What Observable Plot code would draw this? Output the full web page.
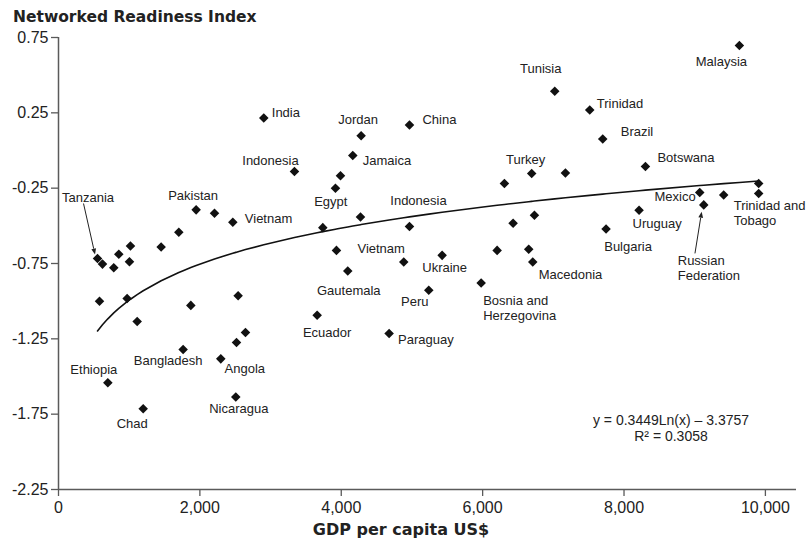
<!DOCTYPE html>
<html>
<head>
<meta charset="utf-8">
<script src="https://cdn.jsdelivr.net/npm/d3@7"></script>
<script src="https://cdn.jsdelivr.net/npm/@observablehq/plot@0.6"></script>
<style>
  html, body { margin: 0; padding: 0; background: #fff; }
  #wrap { position: relative; width: 807px; height: 546px; }
  #title { position: absolute; left: 13px; top: 9px; font: bold 15.5px/17px "DejaVu Sans", sans-serif; color: #222; }
  #chart { position: absolute; left: 0; top: 0; }
</style>
</head>
<body>
<div id="wrap">
  <div id="chart"></div>
  <div id="title">Networked Readiness Index</div>
</div>
<script>
// ---- data ----
const country = [
  "Tanzania", "", "", "", "", "", "", "", "Pakistan", "",
  "Vietnam", "India", "Indonesia", "", "", "Egypt", "", "Vietnam", "Gautemala", "Jordan",
  "Jamaica", "Ecuador", "Paraguay", "China", "Indonesia", "", "Ukraine", "Peru", "Bosnia and\nHerzegovina", "",
  "", "Turkey", "", "", "", "Macedonia", "", "Tunisia", "Trinidad", "Brazil",
  "Bulgaria", "Botswana", "Uruguay", "Mexico", "Russian\nFederation", "", "", "Trinidad and\nTobago", "Malaysia", "",
  "", "", "", "", "", "", "Bangladesh", "Angola", "Nicaragua", "Ethiopia",
  "Chad"
];
const gdp = [
  552, 622, 782, 853, 1004, 1018, 1452, 1702, 1947, 2207,
  2466, 2904, 3338, 3989, 3918, 3739, 4272, 3932, 4092, 4281,
  4163, 3659, 4677, 4965, 4965, 4884, 5427, 5238, 5979, 6205,
  6308, 6694, 6431, 6733, 6652, 6709, 7171, 7020, 7515, 7699,
  7746, 8303, 8213, 9071, 9128, 9410, 9905, 9905, 9632, 580,
  971, 1113, 1872, 2541, 2645, 2518, 1763, 2296, 2508, 698,
  1198
];
const nri = [
  -0.717, -0.754, -0.778, -0.689, -0.738, -0.634, -0.640, -0.543, -0.394, -0.416,
  -0.476, 0.216, -0.139, -0.168, -0.250, -0.512, -0.441, -0.663, -0.800, 0.098,
  -0.033, -1.093, -1.215, 0.169, -0.505, -0.740, -0.696, -0.927, -0.880, -0.663,
  -0.219, -0.153, -0.483, -0.430, -0.656, -0.740, -0.150, 0.393, 0.269, 0.076,
  -0.521, -0.106, -0.396, -0.279, -0.361, -0.295, -0.219, -0.286, 0.697, -1.000,
  -0.982, -1.135, -1.028, -0.964, -1.208, -1.275, -1.321, -1.383, -1.636, -1.541,
  -1.714
];
const xTicks = [0, 2000, 4000, 6000, 8000, 10000];
const yTicks = [0.75, 0.25, -0.25, -0.75, -1.25, -1.75, -2.25];
const trendA = 0.3449, trendB = -3.3757, rSquared = 0.3058;
const xTitle = "GDP per capita US$";

// ---- layout of labels (pixel offsets from their point) ----
const labelPlacement = [
  [0, -9.5, -61.5, "middle"], [8, -3, -15, "middle"], [10, 12, -4, "start"],
  [11, 8, -6, "start"], [12, -24, -11, "middle"], [15, 8, -26, "middle"],
  [17, 21, -2, "start"], [18, 1, 19, "middle"], [19, -3, -17, "middle"],
  [20, 10, 5, "start"], [21, 10, 17, "middle"], [22, 9, 6, "start"],
  [23, 13, -6, "start"], [24, 9, -26, "middle"], [26, 2.5, 12, "middle"],
  [27, -14, 11, "middle"], [28, 2, 24.5, "start"], [31, -6, -14, "middle"],
  [35, 6, 12, "start"], [37, -14, -23, "middle"], [38, 7, -7, "start"],
  [39, 18, -8, "start"], [40, 22, 17, "middle"], [41, 12, -9, "start"],
  [42, 18, 13, "middle"], [43, -4, 4, "end"], [44, -26, 63, "start"],
  [47, -25, 19.5, "start"], [48, -18, 16, "middle"], [56, -15, 11, "middle"],
  [57, 24, 9, "middle"], [58, 3, 11, "middle"], [59, -14, -13, "middle"],
  [60, -11, 14, "middle"]
];
const arrowPlacement = [
  [0, -13.5, -54.5, -2, -3.5],
  [44, -8.3, 49, -1.6, 7.4]
];

const points = gdp.map((g, i) => ({gdp: g, nri: nri[i], name: country[i]}));
const trend = [...gdp].sort((a, b) => a - b).map(g => ({gdp: g, nri: trendA * Math.log(g) + trendB}));

const ink = "#222";
const axisInk = "#5a5a5a";

const labelMarks = labelPlacement.map(([i, dx, dy, anchor]) =>
  Plot.text([points[i]], {
    x: "gdp", y: "nri", text: "name", dx, dy, textAnchor: anchor,
    fontSize: 13, fill: ink, lineHeight: 1.15
  })
);

function arrowsMark(index, scales) {
  const g = d3.create("svg:g").attr("fill", ink).attr("stroke", ink);
  for (const [i, sx, sy, ex, ey] of arrowPlacement) {
    const px = scales.x(points[i].gdp), py = scales.y(points[i].nri);
    const x1 = px + sx, y1 = py + sy, x2 = px + ex, y2 = py + ey;
    const ang = Math.atan2(y2 - y1, x2 - x1);
    const L = 6, W = 2.4;
    const bx = x2 - L * Math.cos(ang), by = y2 - L * Math.sin(ang);
    g.append("line").attr("x1", x1).attr("y1", y1).attr("x2", bx).attr("y2", by).attr("stroke-width", 1);
    g.append("path").attr("stroke", "none").attr("d",
      `M${x2},${y2}L${bx + W * Math.sin(ang)},${by - W * Math.cos(ang)}L${bx - W * Math.sin(ang)},${by + W * Math.cos(ang)}Z`);
  }
  return g.node();
}

const chart = Plot.plot({
  width: 807,
  height: 546,
  marginTop: 37,
  marginBottom: 57,
  marginLeft: 58,
  marginRight: 11,
  style: {fontFamily: "'Liberation Sans', Arial, sans-serif", fontSize: "13px", color: ink, background: "white"},
  x: {domain: [0, 10440]},
  y: {domain: [-2.25, 0.75]},
  marks: [
    Plot.axisX({ticks: xTicks, tickSize: 7, tickPadding: 5, tickFormat: d3.format(","), fontSize: 16, label: null, stroke: axisInk, strokeWidth: 1.3, fill: ink}),
    Plot.axisY({ticks: yTicks, tickSize: 7, tickPadding: 3, tickFormat: d => d.toFixed(2), fontSize: 16, label: null, stroke: axisInk, strokeWidth: 1.3, fill: ink}),
    Plot.ruleX([0], {stroke: axisInk, strokeWidth: 1.5}),
    Plot.ruleY([-2.25], {stroke: axisInk, strokeWidth: 1.5}),
    Plot.line(trend, {x: "gdp", y: "nri", stroke: "#111", strokeWidth: 1.6}),
    Plot.dot(points, {x: "gdp", y: "nri", symbol: "diamond2", r: 4.3, fill: "#111", stroke: "none"}),
    ...labelMarks,
    arrowsMark,
    Plot.text([`y = ${trendA}Ln(x) \u2013 ${Math.abs(trendB)}`], {
      frameAnchor: "bottom-right", textAnchor: "middle", dx: -125.5, dy: -65,
      fontSize: 14, fill: ink, text: d => d, style: "letter-spacing:1.1px"
    }),
    Plot.text([`R\u00b2 = ${rSquared}`], {
      frameAnchor: "bottom-right", textAnchor: "middle", dx: -125.5, dy: -49,
      fontSize: 14, fill: ink, text: d => d, style: "letter-spacing:0.6px"
    }),
    Plot.text([xTitle], {
      frameAnchor: "bottom", text: d => d, dx: -26.5, dy: 45,
      fontSize: 16, fontWeight: "bold", fontFamily: "'DejaVu Sans', sans-serif", fill: ink
    })
  ]
});
document.getElementById("chart").appendChild(chart);
</script>
</body>
</html>
